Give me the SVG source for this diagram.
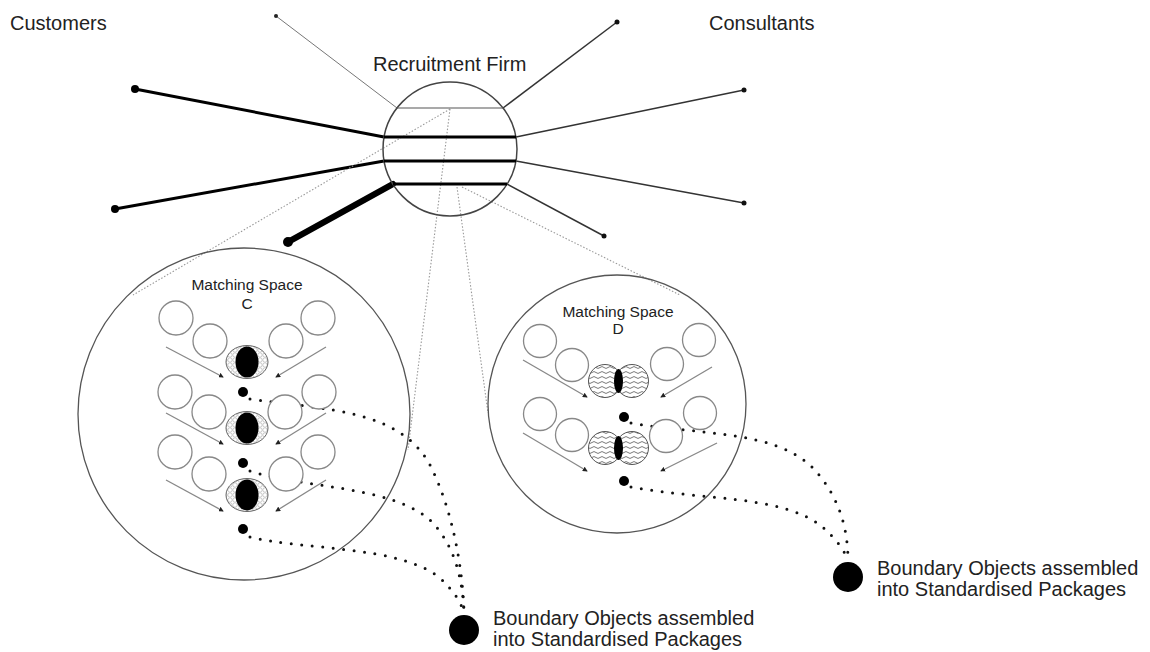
<svg xmlns="http://www.w3.org/2000/svg" width="1150" height="652" viewBox="0 0 1150 652">
<style>
text{font-family:"Liberation Sans",Arial,sans-serif;fill:#222}
.lbl{font-size:20px}
.ms{font-size:15.5px;text-anchor:middle}
.thin{stroke:#777;stroke-width:1;fill:none}
.mid{stroke:#333;stroke-width:1.5;fill:none}
.thick{stroke:#000;stroke-width:3;fill:none}
.vthick{stroke:#000;stroke-width:6;fill:none;stroke-linecap:round}
.cone{stroke:#999;stroke-width:1.1;stroke-dasharray:1.5 1.8;fill:none}
.trail{stroke:#111;stroke-width:3;stroke-dasharray:0 10.5;stroke-linecap:round;fill:none}
.space{fill:none;stroke:#555;stroke-width:1.3}
.obj{fill:#fff;stroke:#888;stroke-width:1.3}
.arr{stroke:#888;stroke-width:1.3;fill:none;marker-end:url(#ah)}
.chord1{stroke:#555;stroke-width:1.2}
.chord{stroke:#000;stroke-width:3}
</style>
<defs>
<marker id="ah" viewBox="0 0 6 6" refX="5" refY="3" markerWidth="5" markerHeight="5" markerUnits="userSpaceOnUse" orient="auto">
<path d="M0,0 L6,3 L0,6 z" fill="#222"/>
</marker>
<pattern id="bubbles" width="5" height="5" patternUnits="userSpaceOnUse">
<rect width="5" height="5" fill="#fff"/>
<circle cx="2.5" cy="2.5" r="1.8" fill="none" stroke="#888" stroke-width="0.5"/>
</pattern>
<pattern id="waves" width="8" height="5" patternUnits="userSpaceOnUse">
<rect width="8" height="5" fill="#fff"/>
<path d="M0,2.5 Q2,0.6 4,2.5 T8,2.5" fill="none" stroke="#555" stroke-width="0.8"/>
</pattern>
</defs>

<g id="connectors">
<line class="thin" x1="276" y1="16" x2="397" y2="108"/>
<circle cx="276" cy="16" r="2" fill="#222"/>
<line class="thick" x1="135" y1="89" x2="384" y2="137"/>
<circle cx="135" cy="89" r="4" fill="#000"/>
<line class="thick" x1="115" y1="209" x2="384" y2="161"/>
<circle cx="115" cy="209" r="4" fill="#000"/>
<line class="vthick" x1="288" y1="242" x2="393" y2="184"/>
<circle cx="288" cy="242" r="5" fill="#000"/>
<line class="mid" x1="503" y1="108" x2="617" y2="22"/>
<circle cx="617" cy="22" r="2.5" fill="#111"/>
<line class="mid" x1="516" y1="137" x2="744" y2="90"/>
<circle cx="744" cy="90" r="2.5" fill="#111"/>
<line class="mid" x1="516" y1="161" x2="744" y2="203"/>
<circle cx="744" cy="203" r="2.5" fill="#111"/>
<line class="mid" x1="507" y1="184" x2="604" y2="236"/>
<circle cx="604" cy="236" r="2.5" fill="#111"/>
<line class="cone" x1="450" y1="109" x2="133" y2="295"/>
<line class="cone" x1="450" y1="109" x2="408" y2="450"/>
<line class="cone" x1="457" y1="187" x2="488" y2="413"/>
<line class="cone" x1="462" y1="187" x2="680" y2="295"/>
<path class="trail" d="M250,399 C330,410 400,410 430,465 C453,510 463,570 464,614"/>
<path class="trail" d="M250,471 C300,488 390,485 430,520 C455,545 463,580 464,614"/>
<path class="trail" d="M250,537 C300,550 400,545 440,578 C455,592 462,604 464,614"/>
<path class="trail" d="M631,423 C700,435 770,430 810,465 C840,495 848,530 848,561"/>
<path class="trail" d="M631,487 C700,500 780,495 820,525 C838,540 845,552 848,561"/>
</g>

<g id="customers-label"><text class="lbl" x="10" y="30">Customers</text></g>
<g id="consultants-label"><text class="lbl" x="709" y="30">Consultants</text></g>

<g id="recruitment-firm">
<text class="lbl" x="373" y="71">Recruitment Firm</text>
<circle cx="450" cy="149" r="67" fill="none" stroke="#444" stroke-width="1.5"/>
<line class="chord1" x1="397" y1="108" x2="503" y2="108"/>
<line class="chord" x1="384" y1="137" x2="516" y2="137"/>
<line class="chord" x1="384" y1="161" x2="516" y2="161"/>
<line class="chord" x1="393" y1="184" x2="507" y2="184"/>
</g>

<g id="matching-space-c">
<circle class="space" cx="244" cy="414" r="166"/>
<text class="ms" x="247" y="290">Matching Space</text>
<text class="ms" x="247" y="309">C</text>
<circle class="obj" cx="176" cy="318" r="17"/>
<circle class="obj" cx="210" cy="341" r="17"/>
<circle class="obj" cx="286" cy="341" r="17"/>
<circle class="obj" cx="318" cy="318" r="17"/>
<line class="arr" x1="166" y1="347" x2="223" y2="377"/>
<line class="arr" x1="326" y1="347" x2="276" y2="377"/>
<ellipse cx="247" cy="362" rx="21" ry="16.5" fill="url(#bubbles)" stroke="#666" stroke-width="1"/>
<ellipse cx="247" cy="362" rx="11.5" ry="15.5" fill="#000"/>
<circle cx="243" cy="392" r="5" fill="#000"/>
<circle class="obj" cx="175" cy="392" r="17"/>
<circle class="obj" cx="209" cy="412" r="17"/>
<circle class="obj" cx="285" cy="412" r="17"/>
<circle class="obj" cx="319" cy="392" r="17"/>
<line class="arr" x1="166" y1="413" x2="223" y2="444"/>
<line class="arr" x1="326" y1="413" x2="276" y2="444"/>
<ellipse cx="247" cy="428" rx="21" ry="16.5" fill="url(#bubbles)" stroke="#666" stroke-width="1"/>
<ellipse cx="247" cy="428" rx="11.5" ry="15.5" fill="#000"/>
<circle cx="243" cy="463" r="5" fill="#000"/>
<circle class="obj" cx="175" cy="452" r="17"/>
<circle class="obj" cx="209" cy="474" r="17"/>
<circle class="obj" cx="286" cy="474" r="17"/>
<circle class="obj" cx="318" cy="452" r="17"/>
<line class="arr" x1="166" y1="480" x2="223" y2="511"/>
<line class="arr" x1="326" y1="480" x2="276" y2="511"/>
<ellipse cx="247" cy="495" rx="21" ry="16.5" fill="url(#bubbles)" stroke="#666" stroke-width="1"/>
<ellipse cx="247" cy="495" rx="11.5" ry="15.5" fill="#000"/>
<circle cx="243" cy="529" r="5" fill="#000"/>
</g>

<g id="matching-space-d">
<circle class="space" cx="617" cy="404" r="129"/>
<text class="ms" x="618" y="317">Matching Space</text>
<text class="ms" x="618" y="334">D</text>
<circle class="obj" cx="540" cy="341" r="16.5"/>
<circle class="obj" cx="572" cy="365" r="16.5"/>
<circle class="obj" cx="667" cy="364" r="16.5"/>
<circle class="obj" cx="699" cy="340" r="16.5"/>
<line class="arr" x1="523" y1="360" x2="587" y2="397"/>
<line class="arr" x1="712" y1="367" x2="661" y2="397"/>
<circle cx="605" cy="381" r="16.5" fill="url(#waves)" stroke="#555" stroke-width="1"/>
<circle cx="632" cy="381" r="16.5" fill="url(#waves)" stroke="#555" stroke-width="1"/>
<ellipse cx="618.5" cy="381" rx="4.5" ry="12" fill="#000"/>
<circle cx="624" cy="417" r="5" fill="#000"/>
<circle class="obj" cx="540" cy="414" r="16.5"/>
<circle class="obj" cx="572" cy="435" r="16.5"/>
<circle class="obj" cx="666" cy="436" r="16.5"/>
<circle class="obj" cx="700" cy="413" r="16.5"/>
<line class="arr" x1="523" y1="433" x2="587" y2="471"/>
<line class="arr" x1="717" y1="443" x2="661" y2="471"/>
<circle cx="605" cy="448" r="16.5" fill="url(#waves)" stroke="#555" stroke-width="1"/>
<circle cx="632" cy="448" r="16.5" fill="url(#waves)" stroke="#555" stroke-width="1"/>
<ellipse cx="618.5" cy="448" rx="4.5" ry="12" fill="#000"/>
<circle cx="624" cy="481" r="5" fill="#000"/>
</g>

<g id="package-c">
<circle cx="464" cy="630" r="15" fill="#000"/>
<text class="lbl" x="493" y="625">Boundary Objects assembled</text>
<text class="lbl" x="493" y="646">into Standardised Packages</text>
</g>

<g id="package-d">
<circle cx="848" cy="577" r="15" fill="#000"/>
<text class="lbl" x="877" y="575">Boundary Objects assembled</text>
<text class="lbl" x="877" y="596">into Standardised Packages</text>
</g>
</svg>
